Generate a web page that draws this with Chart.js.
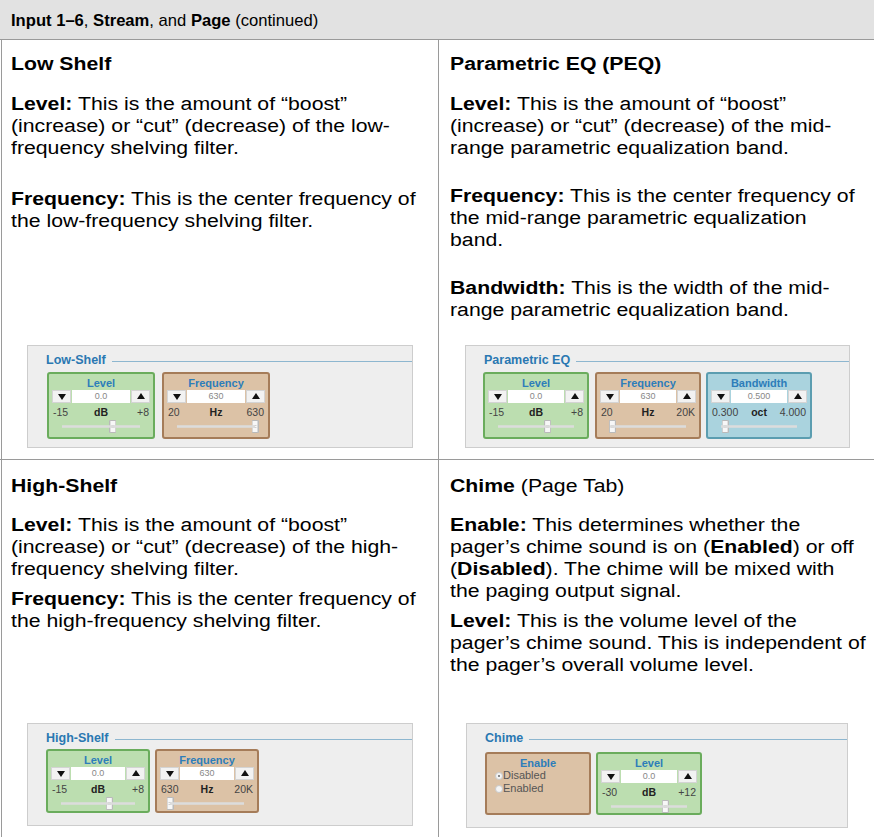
<!DOCTYPE html>
<html>
<head>
<meta charset="utf-8">
<script src="https://cdn.jsdelivr.net/npm/chart.js@4.4.1/dist/chart.umd.min.js"></script>
<style>
  html, body { margin: 0; padding: 0; background: #fff; }
  body { width: 874px; height: 837px; overflow: hidden; position: relative; font-family: "Liberation Sans", Arial, Helvetica, sans-serif; color: #000; }
  .abs { position: absolute; }
  .hdr { left: 0; top: 0; width: 874px; height: 40px; background: #e2e2e2; border-bottom: 1px solid #9a9a9a; box-sizing: border-box; }
  .hdr-text { left: 11px; top: 10px; font-size: 16.6px; line-height: 22px; white-space: nowrap; }
  .vline { background: #9a9a9a; width: 1px; }
  .hline { background: #9a9a9a; height: 1px; }
  .txt { font-size: 18px; line-height: 22px; white-space: nowrap; transform: scaleX(1.18); transform-origin: 0 0; }
  .txt b { font-weight: bold; }
  .panel { background: #eeeeee; border: 1px solid #cdcdcd; box-sizing: border-box; }
  .ptitle { font: bold 12.5px "Liberation Sans", Arial, sans-serif; color: #2a78b2; white-space: nowrap; background: #eeeeee; padding-right: 6px; }
  .pline { height: 1px; background: #8db6cf; }
  .box { box-sizing: border-box; border: 2px solid; border-radius: 3px; }
  .green { background: #bcdeb0; border-color: #6aac5c; }
  .tan { background: #dcc2a6; border-color: #a57c59; }
  .blue { background: #aad3de; border-color: #5b9db0; }
  .blabel { font: bold 11px "Liberation Sans", Arial, sans-serif; color: #2d7dba; text-align: center; left: 0; right: 0; }
  .btn { background: #f2f2f2; border: 1px solid #d4d4d4; box-sizing: border-box; height: 13px; width: 19px; }
  .btn::after { content: ""; position: absolute; left: 5px; border-left: 4px solid transparent; border-right: 4px solid transparent; }
  .btn.dn::after { top: 3px; border-top: 6px solid #111; }
  .btn.up::after { top: 2px; border-bottom: 6px solid #111; }
  .inp { background: #fff; height: 13px; font: 9px "Liberation Sans", Arial, sans-serif; color: #888; text-align: center; line-height: 13px; }
  .rng { font: 10.5px "Liberation Sans", Arial, sans-serif; color: #444; line-height: 12px; white-space: nowrap; }
  .unit { font-weight: bold; color: #222; }
  .radio { font: 11px "Liberation Sans", Arial, sans-serif; color: #555; white-space: nowrap; line-height: 12px; }
  .rdot { width: 8px; height: 8px; border-radius: 50%; background: #f4f4f4; border: 1px solid #c8c8c8; box-sizing: border-box; }
  .rdot.on::after { content: ""; position: absolute; left: 2px; top: 2px; width: 2px; height: 2px; border-radius: 50%; background: #666; }
</style>
</head>
<body>
<script>
// ---------------- DATA ----------------
const controlLabels = ["Level", "Frequency", "Level", "Frequency", "Bandwidth", "Level", "Frequency", "Level"];
const controlUnits  = ["dB", "Hz", "dB", "Hz", "oct", "dB", "Hz", "dB"];
const controlMin    = [-15, 20, -15, 20, 0.3, -15, 630, -30];
const controlMax    = [8, 630, 8, 20000, 4.0, 8, 20000, 12];
const controlValue  = [0, 630, 0, 630, 0.5, 0, 630, 0];
const minTickLabels = ["-15", "20", "-15", "20", "0.300", "-15", "630", "-30"];
const maxTickLabels = ["+8", "630", "+8", "20K", "4.000", "+8", "20K", "+12"];
const valueText     = ["0.0", "630", "0.0", "630", "0.500", "0.0", "630", "0.0"];
const panelTitles   = ["Low-Shelf", "Parametric EQ", "High-Shelf", "Chime"];
const enableOptions = ["Disabled", "Enabled"];
const enableSelected = 0;
</script>

<div class="abs hdr"></div>
<div class="abs hdr-text"><b>Input 1–6</b>, <b>Stream</b>, and <b>Page</b> (continued)</div>
<div class="abs vline" style="left:1px;top:40px;height:797px"></div>
<div class="abs vline" style="left:438px;top:40px;height:797px"></div>
<div class="abs hline" style="left:0;top:459px;width:874px"></div>

<!-- Row 1 left -->
<div class="abs txt" style="left:11px;top:53px"><b>Low Shelf</b></div>
<div class="abs txt" style="left:11px;top:93px"><b>Level:</b> This is the amount of “boost”<br>(increase) or “cut” (decrease) of the low-<br>frequency shelving filter.</div>
<div class="abs txt" style="left:11px;top:188px"><b>Frequency:</b> This is the center frequency of<br>the low-frequency shelving filter.</div>

<!-- Row 1 right -->
<div class="abs txt" style="left:450px;top:53px"><b>Parametric EQ (PEQ)</b></div>
<div class="abs txt" style="left:450px;top:93px"><b>Level:</b> This is the amount of “boost”<br>(increase) or “cut” (decrease) of the mid-<br>range parametric equalization band.</div>
<div class="abs txt" style="left:450px;top:185px"><b>Frequency:</b> This is the center frequency of<br>the mid-range parametric equalization<br>band.</div>
<div class="abs txt" style="left:450px;top:277px"><b>Bandwidth:</b> This is the width of the mid-<br>range parametric equalization band.</div>

<!-- Row 2 left -->
<div class="abs txt" style="left:11px;top:475px"><b>High-Shelf</b></div>
<div class="abs txt" style="left:11px;top:514px"><b>Level:</b> This is the amount of “boost”<br>(increase) or “cut” (decrease) of the high-<br>frequency shelving filter.</div>
<div class="abs txt" style="left:11px;top:588px"><b>Frequency:</b> This is the center frequency of<br>the high-frequency shelving filter.</div>

<!-- Row 2 right -->
<div class="abs txt" style="left:450px;top:475px"><b>Chime</b> (Page Tab)</div>
<div class="abs txt" style="left:450px;top:514px"><b>Enable:</b> This determines whether the<br>pager’s chime sound is on (<b>Enabled</b>) or off<br>(<b>Disabled</b>). The chime will be mixed with<br>the paging output signal.</div>
<div class="abs txt" style="left:450px;top:610px"><b>Level:</b> This is the volume level of the<br>pager’s chime sound. This is independent of<br>the pager’s overall volume level.</div>

<script>
// ---------------- LAYOUT ----------------
const panelLayout = [
  { left: 27, top: 345, w: 386, h: 103, boxes: [[0, 47, "green"], [1, 162, "tan"]], boxTop: 372, boxW: 108, boxH: 67 },
  { left: 465, top: 345, w: 385, h: 103, boxes: [[2, 483, "green"], [3, 595, "tan"], [4, 706, "blue"]], boxTop: 372, boxW: 106, boxH: 67 },
  { left: 27, top: 723, w: 386, h: 103, boxes: [[5, 46, "green"], [6, 155, "tan"]], boxTop: 749, boxW: 104, boxH: 64 },
  { left: 466, top: 723, w: 382, h: 105, boxes: [["enable", 485, "tan"], [7, 596, "green"]], boxTop: 752, boxW: 106, boxH: 63 }
];

function el(cls, style, html, parent) {
  const d = document.createElement("div");
  d.className = cls;
  d.style.cssText = style;
  if (html !== undefined) d.innerHTML = html;
  (parent || document.body).appendChild(d);
  return d;
}

// slider thumb image used as Chart.js point style
function makeThumb() {
  const c = document.createElement("canvas");
  c.width = 7; c.height = 13;
  const g = c.getContext("2d");
  g.fillStyle = "#f7f7f7";
  g.strokeStyle = "#b9b9b9";
  g.lineWidth = 1;
  g.beginPath();
  g.rect(0.5, 0.5, 6, 12);
  g.fill(); g.stroke();
  g.strokeStyle = "#cfcfcf";
  g.beginPath();
  g.moveTo(2, 5.5); g.lineTo(5, 5.5);
  g.moveTo(2, 7.5); g.lineTo(5, 7.5);
  g.stroke();
  return c;
}
const thumbImg = makeThumb();

function makeSlider(parent, i, left, top, width) {
  const cv = document.createElement("canvas");
  cv.width = width + 8; cv.height = 15;
  cv.style.cssText = `position:absolute;left:${left - 4}px;top:${top - 7}px;width:${width + 8}px;height:15px`;
  parent.appendChild(cv);
  new Chart(cv, {
    type: "scatter",
    data: {
      datasets: [
        { data: [{ x: controlMin[i], y: 0 }, { x: controlMax[i], y: 0 }], showLine: true, borderColor: "#dcdcdc", borderWidth: 2.5, pointRadius: 0, clip: false },
        { data: [{ x: controlValue[i], y: 0 }], pointStyle: thumbImg, pointRadius: 6, clip: false }
      ]
    },
    options: {
      responsive: false, animation: false, events: [],
      layout: { padding: { left: 4, right: 4, top: 0, bottom: 0 } },
      plugins: { legend: { display: false }, tooltip: { enabled: false } },
      scales: {
        x: { type: "linear", display: false, min: controlMin[i], max: controlMax[i] },
        y: { display: false, min: -1, max: 1 }
      }
    }
  });
}

panelLayout.forEach((p, pi) => {
  el("abs panel", `left:${p.left}px;top:${p.top}px;width:${p.w}px;height:${p.h}px`);
  el("abs pline", `left:${p.left + 20}px;top:${p.top + 16}px;width:${p.w - 21}px`);
  el("abs ptitle", `left:${p.left + 19}px;top:${p.top + 8}px`, panelTitles[pi]);
  p.boxes.forEach(([i, bx, col]) => {
    const b = el("abs box " + col, `left:${bx}px;top:${p.boxTop}px;width:${p.boxW}px;height:${p.boxH}px`);
    const iw = p.boxW - 4; // inner width
    if (i === "enable") {
      el("abs blabel", `top:3px`, "Enable", b);
      enableOptions.forEach((opt, k) => {
        el("abs rdot" + (k === enableSelected ? " on" : ""), `left:8px;top:${18 + k * 13}px`, undefined, b);
        el("abs radio", `left:16px;top:${15 + k * 13}px`, opt, b);
      });
      return;
    }
    el("abs blabel", `top:3px`, controlLabels[i], b);
    const bw = 19, gap = 1, pad = 3;
    el("abs btn dn", `left:${pad}px;top:16px`, undefined, b);
    el("abs inp", `left:${pad + bw + gap}px;top:16px;width:${iw - 2 * pad - 2 * bw - 2 * gap}px`, valueText[i], b);
    el("abs btn up", `left:${iw - pad - bw}px;top:16px`, undefined, b);
    el("abs rng", `left:${pad + 1}px;top:32px`, minTickLabels[i], b);
    el("abs rng unit", `left:0;right:0;text-align:center;top:32px`, controlUnits[i], b);
    el("abs rng", `right:${pad + 1}px;top:32px`, maxTickLabels[i], b);
    makeSlider(b, i, 10, 52, iw - 20);
  });
});
</script>
</body>
</html>
